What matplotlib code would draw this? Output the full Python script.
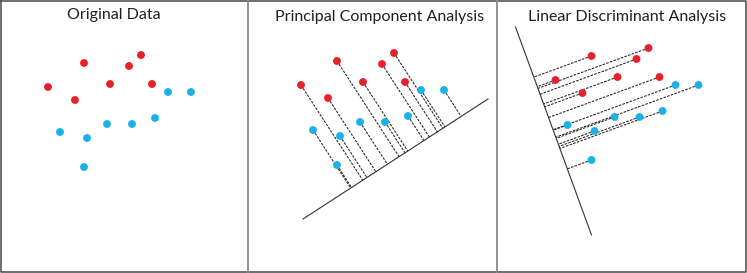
import numpy as np
import matplotlib
matplotlib.use("Agg")
import matplotlib.pyplot as plt
from matplotlib.lines import Line2D

# two classes, same points in every panel (x right, y up)
red_x = [48, 84, 75, 110, 129, 141, 152]
red_y = [186, 210, 173, 189, 207, 218, 189]
blue_x = [168, 191, 155, 132, 107, 60, 87, 84]
blue_y = [181, 181, 155, 149, 149, 141, 135, 106]

# projection axes (two end points each)
pca_axis_x = [50, 235]
pca_axis_y = [52, 172]
lda_axis_x = [8, 84]
lda_axis_y = [239, 31]

titles = ['Original Data', 'Principal Component Analysis', 'Linear Discriminant Analysis']

RED = '#e8202a'
BLUE = '#1cafe8'
W, H = 747, 273
DPI = 100

fig = plt.figure(figsize=(W / DPI, H / DPI), dpi=DPI)

# panel edges in pixels and the view offset of the data in each panel
edges = [0, 248, 497, 746]
shifts = [(0, 0), (5, 2), (10.5, 7)]
title_x = [114, 380, 627]
title_base = [19.5, 21, 21]


def project(px, py, ax_x, ax_y):
    a = np.array([ax_x[0], ax_y[0]], float)
    d = np.array([ax_x[1] - ax_x[0], ax_y[1] - ax_y[0]], float)
    p = np.column_stack([px, py]).astype(float)
    t = (p - a) @ d / (d @ d)
    return a + np.outer(t, d)


axes = []
for i in range(3):
    x0, x1 = edges[i], edges[i + 1]
    ax = fig.add_axes([x0 / W, 0, (x1 - x0) / W, 1])
    sx, sy = shifts[i]
    ax.set_xlim(-sx, x1 - x0 - sx)
    ax.set_ylim(-sy, H - sy)
    ax.axis('off')
    axes.append(ax)

for i, (ax, axis) in enumerate(zip(axes, [None, (pca_axis_x, pca_axis_y), (lda_axis_x, lda_axis_y)])):
    if axis is not None:
        ax.plot(axis[0], axis[1], color='#333333', lw=0.8, zorder=2)
        for xs, ys in [(red_x, red_y), (blue_x, blue_y)]:
            feet = project(xs, ys, axis[0], axis[1])
            for px, py, f in zip(xs, ys, feet):
                ax.plot([px, f[0]], [py, f[1]], color='#222222', lw=0.75,
                        linestyle=(0, (2.5, 1.2)), zorder=3)
    ax.scatter(red_x, red_y, s=32, color=RED, edgecolors='none', zorder=5)
    ax.scatter(blue_x, blue_y, s=32, color=BLUE, edgecolors='none', zorder=5)

for i, t in enumerate(titles):
    fig.text(title_x[i] / W, 1 - title_base[i] / H, t, ha='center', va='baseline',
             fontsize=11.5, family='Lato', color='#231f20')

# panel frames
frame = dict(transform=fig.transFigure, figure=fig)
fig.lines.append(Line2D([0.5 / W, 745.5 / W, 745.5 / W, 0.5 / W, 0.5 / W],
                        [1 - 0.8 / H, 1 - 0.8 / H, 0.8 / H, 0.8 / H, 1 - 0.8 / H],
                        color='#555555', lw=1.2, **frame))
for xe in edges[1:3]:
    fig.lines.append(Line2D([(xe + 0.3) / W] * 2, [0, 1], color='#8a8a8a', lw=1.3, **frame))

fig.savefig('out.png', dpi=DPI)
